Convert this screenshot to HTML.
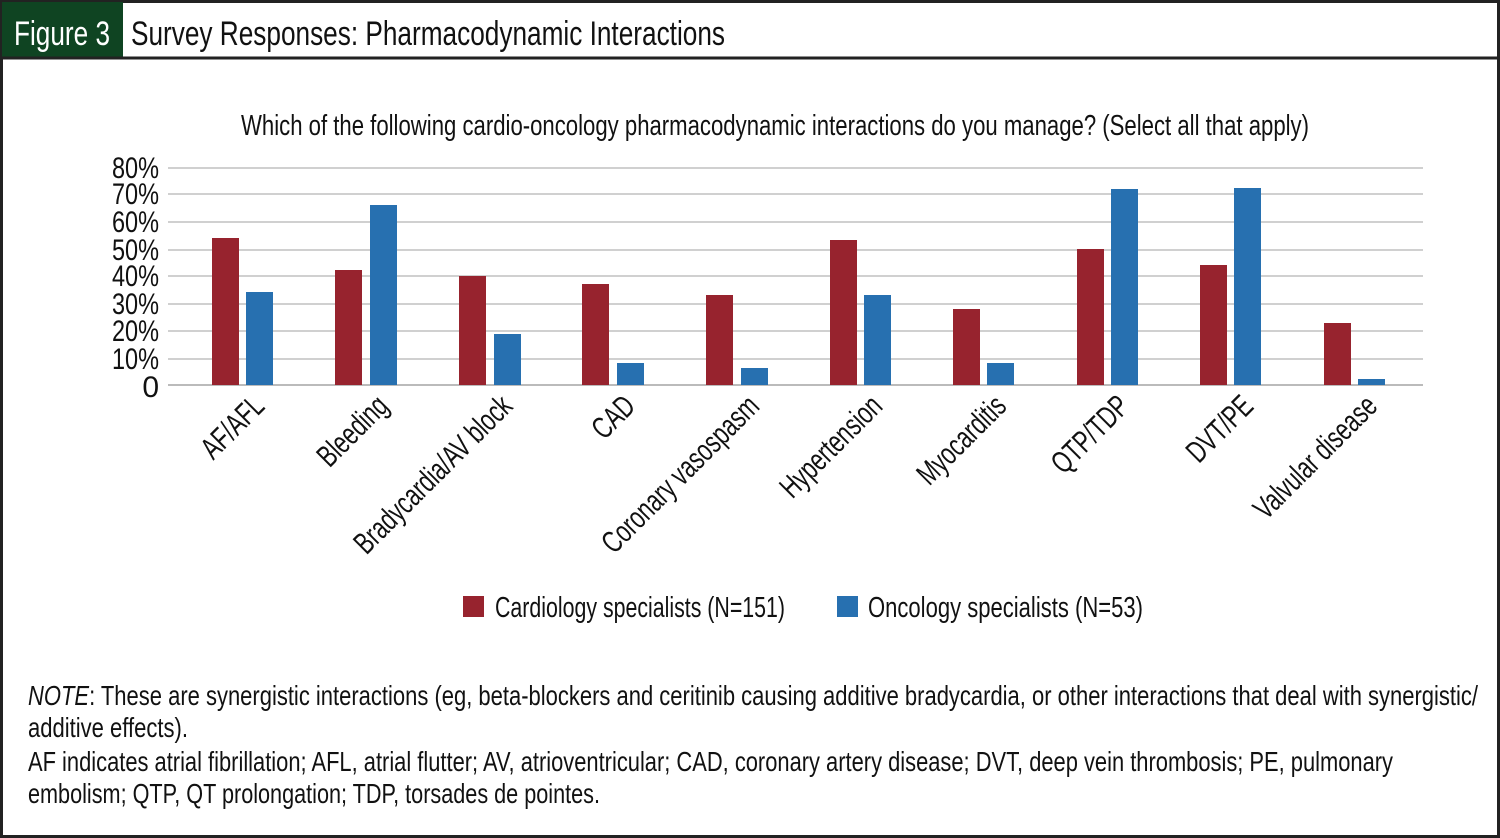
<!DOCTYPE html>
<html><head><meta charset="utf-8"><style>
html,body{margin:0;padding:0;background:#fff}
svg{display:block}
text{font-family:"Liberation Sans",sans-serif;fill:#111}
</style></head><body>
<svg width="1500" height="838" viewBox="0 0 1500 838" xmlns="http://www.w3.org/2000/svg">
<rect x="1.5" y="1.5" width="1497" height="835" fill="#fff" stroke="#222" stroke-width="3"/>
<rect x="2" y="2" width="121" height="55" fill="#0f4422"/>
<line x1="0" y1="58" x2="1500" y2="58" stroke="#222" stroke-width="3"/>
<text x="14" y="45" font-size="34" textLength="96" lengthAdjust="spacingAndGlyphs" style="fill:#fff">Figure 3</text>
<text x="131" y="45" font-size="34" textLength="594" lengthAdjust="spacingAndGlyphs">Survey Responses: Pharmacodynamic Interactions</text>
<text x="241" y="135" font-size="29" textLength="1068" lengthAdjust="spacingAndGlyphs">Which of the following cardio-oncology pharmacodynamic interactions do you manage? (Select all that apply)</text>
<g stroke="#d0d0d0" stroke-width="2">
<line x1="168" y1="168" x2="1423" y2="168"/><line x1="168" y1="194" x2="1423" y2="194"/>
<line x1="168" y1="222" x2="1423" y2="222"/><line x1="168" y1="250" x2="1423" y2="250"/>
<line x1="168" y1="276" x2="1423" y2="276"/><line x1="168" y1="304" x2="1423" y2="304"/>
<line x1="168" y1="331" x2="1423" y2="331"/><line x1="168" y1="359" x2="1423" y2="359"/>
<line x1="168" y1="385" x2="1423" y2="385" stroke="#bbb"/>
</g>
<g font-size="30" text-anchor="end">
<text x="159" y="178" textLength="47" lengthAdjust="spacingAndGlyphs">80%</text>
<text x="159" y="204" textLength="47" lengthAdjust="spacingAndGlyphs">70%</text>
<text x="159" y="232" textLength="47" lengthAdjust="spacingAndGlyphs">60%</text>
<text x="159" y="260" textLength="47" lengthAdjust="spacingAndGlyphs">50%</text>
<text x="159" y="286" textLength="47" lengthAdjust="spacingAndGlyphs">40%</text>
<text x="159" y="314" textLength="47" lengthAdjust="spacingAndGlyphs">30%</text>
<text x="159" y="341" textLength="47" lengthAdjust="spacingAndGlyphs">20%</text>
<text x="159" y="369" textLength="47" lengthAdjust="spacingAndGlyphs">10%</text>
<text x="159" y="397">0</text>
</g>
<g fill="#97232e">
<rect x="212" y="238" width="27" height="147"/>
<rect x="335" y="270" width="27" height="115"/>
<rect x="459" y="276" width="27" height="109"/>
<rect x="582" y="284" width="27" height="101"/>
<rect x="706" y="295" width="27" height="90"/>
<rect x="830" y="240" width="27" height="145"/>
<rect x="953" y="309" width="27" height="76"/>
<rect x="1077" y="249" width="27" height="136"/>
<rect x="1200" y="265" width="27" height="120"/>
<rect x="1324" y="323" width="27" height="62"/>
</g>
<g fill="#2770b0">
<rect x="246" y="292" width="27" height="93"/>
<rect x="370" y="205" width="27" height="180"/>
<rect x="494" y="334" width="27" height="51"/>
<rect x="617" y="363" width="27" height="22"/>
<rect x="741" y="368" width="27" height="17"/>
<rect x="864" y="295" width="27" height="90"/>
<rect x="987" y="363" width="27" height="22"/>
<rect x="1111" y="189" width="27" height="196"/>
<rect x="1234" y="188" width="27" height="197"/>
<rect x="1358" y="379" width="27" height="6"/>
</g>
<g font-size="31" text-anchor="end">
<text transform="translate(266,408) rotate(-45) scale(0.71,1)">AF/AFL</text>
<text transform="translate(390,408) rotate(-45) scale(0.71,1)">Bleeding</text>
<text transform="translate(514,408) rotate(-45) scale(0.71,1)">Bradycardia/AV block</text>
<text transform="translate(637,408) rotate(-45) scale(0.71,1)">CAD</text>
<text transform="translate(761,408) rotate(-45) scale(0.71,1)">Coronary vasospasm</text>
<text transform="translate(884,408) rotate(-45) scale(0.71,1)">Hypertension</text>
<text transform="translate(1008,408) rotate(-45) scale(0.71,1)">Myocarditis</text>
<text transform="translate(1131,408) rotate(-45) scale(0.71,1)">QTP/TDP</text>
<text transform="translate(1255,408) rotate(-45) scale(0.71,1)">DVT/PE</text>
<text transform="translate(1379,408) rotate(-45) scale(0.71,1)">Valvular disease</text>
</g>
<rect x="463" y="596" width="21" height="21" fill="#97232e"/>
<text x="495" y="617" font-size="29" textLength="290" lengthAdjust="spacingAndGlyphs">Cardiology specialists (N=151)</text>
<rect x="837" y="596" width="21" height="21" fill="#2770b0"/>
<text x="868" y="617" font-size="29" textLength="275" lengthAdjust="spacingAndGlyphs">Oncology specialists (N=53)</text>
<g font-size="28">
<text x="28" y="705" textLength="1450" lengthAdjust="spacingAndGlyphs"><tspan font-style="italic">NOTE</tspan>: These are synergistic interactions (eg, beta-blockers and ceritinib causing additive bradycardia, or other interactions that deal with synergistic/</text>
<text x="28" y="737" textLength="160" lengthAdjust="spacingAndGlyphs">additive effects).</text>
<text x="28" y="771" textLength="1365" lengthAdjust="spacingAndGlyphs">AF indicates atrial fibrillation; AFL, atrial flutter; AV, atrioventricular; CAD, coronary artery disease; DVT, deep vein thrombosis; PE, pulmonary</text>
<text x="28" y="803" textLength="572" lengthAdjust="spacingAndGlyphs">embolism; QTP, QT prolongation; TDP, torsades de pointes.</text>
</g>
</svg>
</body></html>
